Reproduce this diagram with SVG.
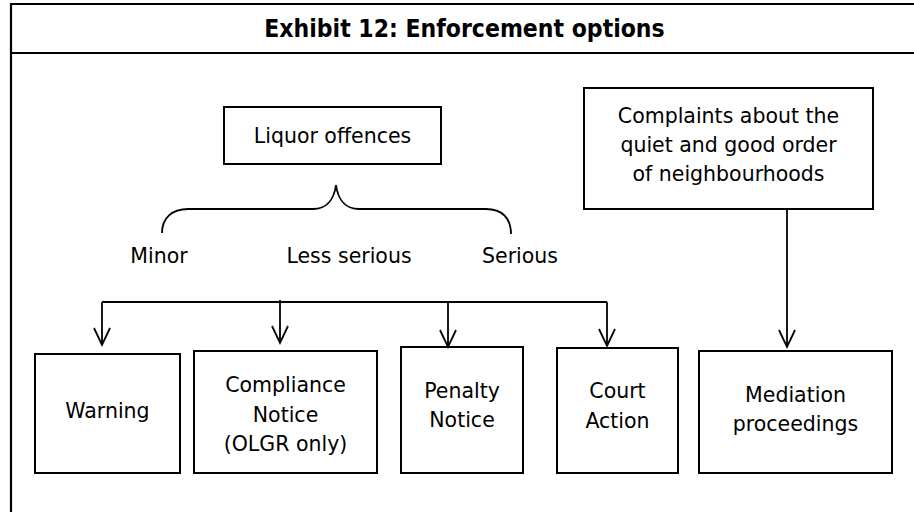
<svg xmlns="http://www.w3.org/2000/svg" width="914" height="512" viewBox="0 0 914 512">
<style>
.box{fill:#fff;stroke:#000;stroke-width:2}
.t{font-family:"DejaVu Sans","Liberation Sans",sans-serif;font-size:20.5px;fill:#000;text-anchor:middle}
.title{font-family:"DejaVu Sans Condensed","DejaVu Sans",sans-serif;font-weight:bold;font-size:24.5px;fill:#000;text-anchor:middle}
.ln{fill:none;stroke:#000;stroke-width:1.8}
</style>
<defs>
<marker id="ah" markerUnits="userSpaceOnUse" markerWidth="24" markerHeight="24" viewBox="-20 -12 24 24" refX="0" refY="0" orient="auto">
<path d="M-17,-8 L0,0 L-17,8" fill="none" stroke="#000" stroke-width="1.8"/>
</marker>
</defs>
<rect width="914" height="512" fill="#fff"/>
<g id="frame">
<path d="M11,530 L11,4 L930,4" fill="none" stroke="#000" stroke-width="2.2"/>
<line x1="11" y1="53" x2="930" y2="53" stroke="#000" stroke-width="2.2"/>
<text class="title" x="464.5" y="37">Exhibit 12: Enforcement options</text>
</g>
<g id="liquor">
<rect class="box" x="224" y="107" width="217" height="57"/>
<text class="t" x="332.5" y="143">Liquor offences</text>
</g>
<g id="brace">
<path class="ln" d="M162,233 C162,218 172,209 188,209 L313,209 C326,209 334,200 336,185 C338,200 346,209 359,209 L486,209 C502,209 511,218 511,234"/>
<text class="t" x="159" y="263">Minor</text>
<text class="t" x="349" y="263">Less serious</text>
<text class="t" x="520" y="263">Serious</text>
</g>
<g id="complaints">
<rect class="box" x="584" y="88" width="289" height="121"/>
<text class="t" x="728.5" y="123">Complaints about the</text>
<text class="t" x="728.5" y="152">quiet and good order</text>
<text class="t" x="728.5" y="181">of neighbourhoods</text>
</g>
<g id="warning">
<rect class="box" x="35" y="354" width="145" height="119"/>
<text class="t" x="107.5" y="418">Warning</text>
</g>
<g id="compliance">
<rect class="box" x="194" y="351" width="183" height="122"/>
<text class="t" x="285.5" y="392">Compliance</text>
<text class="t" x="285.5" y="422">Notice</text>
<text class="t" x="285.5" y="451">(OLGR only)</text>
</g>
<g id="penalty">
<rect class="box" x="401" y="347" width="122" height="126"/>
<text class="t" x="462" y="398">Penalty</text>
<text class="t" x="462" y="427">Notice</text>
</g>
<g id="court">
<rect class="box" x="557" y="348" width="121" height="125"/>
<text class="t" x="617.5" y="398">Court</text>
<text class="t" x="617.5" y="428">Action</text>
</g>
<g id="mediation">
<rect class="box" x="699" y="351" width="193" height="122"/>
<text class="t" x="795.5" y="402">Mediation</text>
<text class="t" x="795.5" y="431">proceedings</text>
</g>
<g id="connectors">
<line class="ln" x1="102" y1="302" x2="607" y2="302"/>
<line class="ln" x1="102" y1="302" x2="102" y2="345" marker-end="url(#ah)"/>
<line class="ln" x1="280" y1="300" x2="280" y2="343" marker-end="url(#ah)"/>
<line class="ln" x1="448" y1="302" x2="448" y2="347" marker-end="url(#ah)"/>
<line class="ln" x1="607" y1="302" x2="607" y2="346" marker-end="url(#ah)"/>
<line class="ln" x1="787" y1="209" x2="787" y2="347" marker-end="url(#ah)"/>
</g>
</svg>
